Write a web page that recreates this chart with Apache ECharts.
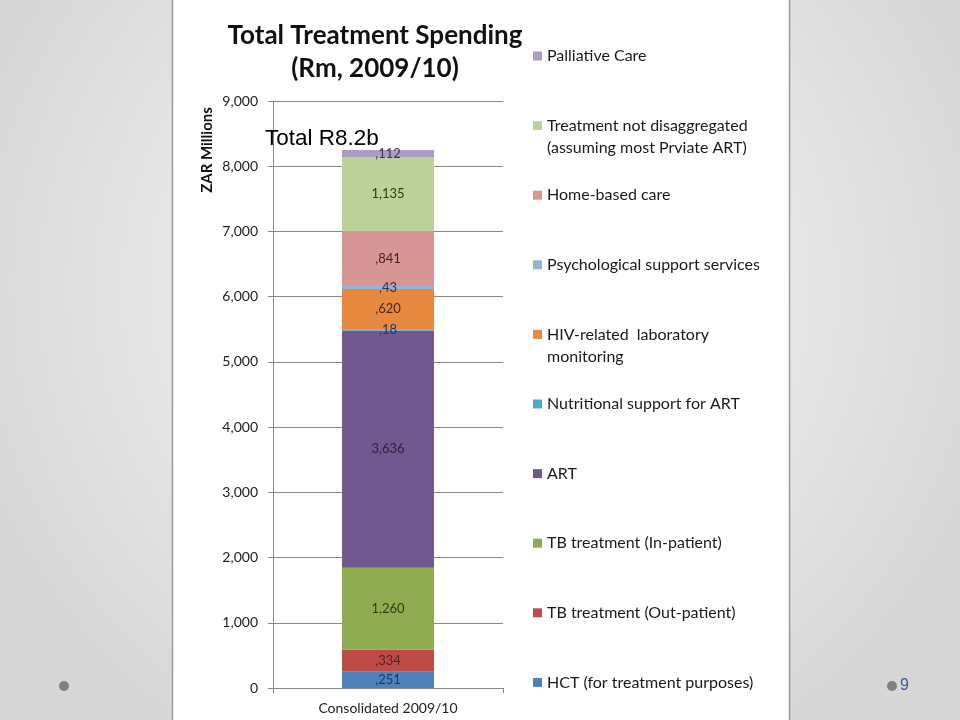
<!DOCTYPE html>
<html>
<head>
<meta charset="utf-8">
<script src="https://cdn.jsdelivr.net/npm/echarts@6/dist/echarts.min.js"></script>
<style>html,body{margin:0;padding:0;}#c{width:960px;height:720px;}</style>
</head>
<body>
<div id="c"></div>
<script>
// ---- data ----
const categories = ['Consolidated 2009/10'];
const seriesNames = [
  'HCT (for treatment purposes)',
  'TB treatment (Out-patient)',
  'TB treatment (In-patient)',
  'ART',
  'Nutritional support for ART',
  'HIV-related  laboratory\nmonitoring',
  'Psychological support services',
  'Home-based care',
  'Treatment not disaggregated\n(assuming most Prviate ART)',
  'Palliative Care'
];
const seriesValues = [251, 334, 1260, 3636, 18, 620, 43, 841, 1135, 112];
const seriesColors = ['#4F81BD', '#BE4B48', '#8EAB50', '#71588F', '#4BACC6', '#E6893E', '#95B3D7', '#D79593', '#BCD19A', '#AC9BC6'];
const labelColors = ['#1F3864', '#5A1F1D', '#2E3B12', '#2E2240', '#1F3864', '#4A2A0C', '#1F3864', '#4A1E1D', '#2E3B12', '#3F3151'];
const yTicks = [0, 1000, 2000, 3000, 4000, 5000, 6000, 7000, 8000, 9000];
const titleText = 'Total Treatment Spending\n(Rm, 2009/10)';
const totalNote = 'Total R8.2b';
const yAxisName = 'ZAR Millions';

function fmtLabel(v) {
  return v >= 1000 ? v.toLocaleString('en-US') : ',' + v;
}

const chart = echarts.init(document.getElementById('c'));

const series = seriesNames.map((name, i) => ({
  name: name,
  type: 'bar',
  stack: 'total',
  barWidth: '40%',
  data: [seriesValues[i]],
  itemStyle: { color: seriesColors[i] },
  label: {
    show: true,
    position: 'inside',
    formatter: p => fmtLabel(p.value),
    color: labelColors[i],
    fontFamily: 'Lato',
    fontSize: 13
  },
  emphasis: { disabled: true }
}));

const isTwoLine = n => n.indexOf('\n') >= 0;
const legendData = seriesNames.slice().reverse().map(n => ({
  name: n,
  textStyle: { padding: isTwoLine(n) ? [0, 0, 0, 0] : [22, 0, 22, 0] }
}));

chart.setOption({
  animation: false,
  backgroundColor: {
    type: 'radial', x: 0.5, y: 0.4, r: 0.75,
    colorStops: [{ offset: 0, color: '#fbfbfb' }, { offset: 1, color: '#d6d6d6' }]
  },
  graphic: {
    elements: [
      {
        type: 'rect', z: -10,
        shape: { x: 172.5, y: -5, width: 617, height: 730 },
        style: { fill: '#ffffff', stroke: '#9a9a9a', lineWidth: 1.5 }
      },
      { type: 'circle', z: -5, shape: { cx: 64, cy: 686, r: 5 }, style: { fill: '#7f7f7f' } },
      { type: 'circle', z: -5, shape: { cx: 892, cy: 686, r: 5 }, style: { fill: '#7f7f7f' } },
      {
        type: 'text', z: -5, x: 900, y: 686,
        style: { text: '9', fill: '#3B5B9C', fontFamily: 'Liberation Sans', fontSize: 16, verticalAlign: 'middle', align: 'left' }
      }
    ]
  },
  title: [
    {
      text: titleText,
      left: 375,
      top: 19,
      padding: 0,
      textAlign: 'center',
      textStyle: { fontFamily: 'Lato', fontWeight: 'bold', fontSize: 26, lineHeight: 33, color: '#111' }
    },
    {
      text: totalNote,
      left: 265,
      top: 127,
      padding: 0,
      textStyle: { fontFamily: 'Liberation Sans', fontWeight: 'normal', fontSize: 22.5, color: '#000' }
    }
  ],
  legend: {
    orient: 'vertical',
    left: 533,
    top: 23,
    padding: 0,
    itemGap: 3.6,
    itemWidth: 9,
    itemHeight: 9,
    icon: 'rect',
    selectedMode: false,
    itemStyle: { borderWidth: 0 },
    // two-line entries get an empty leading line so the first text line sits level with the swatch
    formatter: n => isTwoLine(n) ? '\n' + n : n,
    textStyle: { fontFamily: 'Lato', fontSize: 16, lineHeight: 22, color: '#1a1a1a' },
    data: legendData
  },
  grid: { left: 273, right: 457, top: 101, bottom: 32, containLabel: false },
  xAxis: {
    type: 'category',
    data: categories,
    axisLine: { lineStyle: { color: '#868686', width: 1 } },
    axisTick: { show: true, length: 5, alignWithLabel: false, lineStyle: { color: '#868686' } },
    axisLabel: { fontFamily: 'Lato', fontSize: 14, color: '#222', margin: 13 }
  },
  yAxis: {
    type: 'value',
    min: 0, max: 9000, interval: 1000,
    name: yAxisName,
    nameLocation: 'middle',
    nameRotate: 90,
    nameGap: 58,
    nameTextStyle: { fontFamily: 'Lato', fontWeight: 'bold', fontSize: 15, color: '#111', padding: [0, 0, 0, 489] },
    axisLine: { show: true, lineStyle: { color: '#868686', width: 1 } },
    axisTick: { show: true, length: 5, lineStyle: { color: '#868686' } },
    splitLine: { show: true, lineStyle: { color: '#868686', width: 1 } },
    axisLabel: {
      fontFamily: 'Lato', fontSize: 14, color: '#222', margin: 15,
      formatter: v => yTicks.indexOf(v) >= 0 ? v.toLocaleString('en-US') : ''
    }
  },
  series: series
});
</script>
</body>
</html>
